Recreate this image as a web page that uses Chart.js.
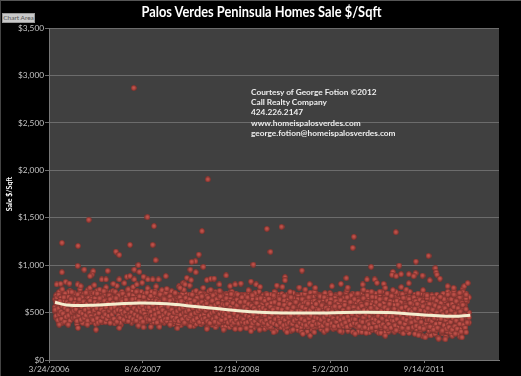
<!DOCTYPE html>
<html>
<head>
<meta charset="utf-8">
<script src="https://cdn.jsdelivr.net/npm/chart.js@4"></script>
<style>
  html, body { margin: 0; padding: 0; background: #000; overflow: hidden; }
  #wrap { position: relative; width: 521px; height: 376px; }
  #wrap canvas { filter: blur(0.35px); }
  #edge { position: absolute; left: 0; top: 0; width: 520px; height: 375px; border-top: 1px solid #555; border-left: 1px solid #444; }
  #head { position: absolute; left: 1px; top: 1px; width: 521px; text-align: center; font: bold 15px/20px Lato, sans-serif; color: #fff; transform: scaleX(.855); white-space: nowrap; }
  #btn { position: absolute; left: 2px; top: 13px; width: 33px; height: 10px; background: #c8c8c8; border: 1px solid #999; box-sizing: border-box;
         font: 6.5px/8px Lato, sans-serif; color: #555; text-align: center; white-space: nowrap; }
  #note { position: absolute; left: 251px; top: 87px; font: bold 8.3px/10.2px Lato, sans-serif; color: #eee; white-space: nowrap; }
</style>
</head>
<body>
<div id="wrap">
  <canvas id="myChart" width="521" height="376"></canvas>
  <div id="edge"></div>
  <div id="head">Palos Verdes Peninsula Homes Sale $/Sqft</div>
  <div id="btn">Chart Area</div>
  <div id="note">Courtesy of George Fotion ©2012<br>Call Realty Company<br>424.226.2147<br>www.homeispalosverdes.com<br>george.fotion@homeispalosverdes.com</div>
</div>
<script>
// x values are days since 3/24/2006, the axis steps 500 days
const tickDays = [0, 500, 1000, 1500, 2000];
const tickLabels = ['3/24/2006', '8/6/2007', '12/18/2008', '5/2/2010', '9/14/2011'];

const outlierDays = [452,847,69,212,155,69,153,188,236,228,219,313,357,375,432,525,560,553,569,477,455,482,816,799,781,761,823,754,783,1090,
  1162,1240,1181,1349,1259,1259,1626,1620,1850,2024,1957,1868,1718,2061,2065,2069,2085,1834,1829,1852,1878,1919,1955,1945,1992,2031,1919];
const outlierPrices = [2868,1904,1235,1478,1203,925,992,953,935,900,883,940,1143,1108,1214,1506,1411,1214,1052,999,953,929,1358,1112,1041,1035,982,953,925,1006,
  1383,1404,1140,943,872,840,1299,1183,1347,1098,1038,996,982,967,925,900,858,929,898,883,904,904,914,883,890,840,809];

const upperDays = [41,62,89,109,153,169,219,242,281,304,343,375,415,432,455,468,504,527,553,584,623,628,673,699,717,735,758,726,842,863,881,909,945,966,993,1023,1077,1105,
  1126,1215,1245,1286,1335,1367,1390,1420,1509,1557,1586,1593,1673,1696,1737,1749,1785,1794,1834,1879,1906,1995,2016,2087,2126,2158,2190,2215,2233,2225];
const upperPrices = [796,803,824,806,796,778,761,789,849,849,803,849,877,884,849,796,877,849,849,849,884,750,708,761,813,866,842,796,842,856,859,796,891,778,796,806,827,796,
  771,785,771,718,764,743,799,761,778,803,863,764,796,849,849,813,803,761,736,768,743,736,680,665,778,761,708,778,810,690];

const lowerDays = [55,103,155,205,251,326,375,477,504,543,589,646,685,753,842,931,993,1020,1052,1077,1123,
  1198,1269,1301,1354,1393,1415,1482,1553,1633,1692,1770,1794,1852,1971,2007,2078,2114,2167,2203,2225];
const lowerPrices = [373,373,338,373,320,391,338,363,345,349,349,373,335,356,327,320,327,327,335,303,320,
  292,292,320,275,257,292,320,303,278,285,285,257,313,261,239,225,218,278,239,292];

const coreDays = [
  33,38,42,47,51,55,58,63,66,71,74,79,83,86,91,95,99,104,108,112,117,121,125,129,
  132,136,141,144,149,153,157,162,166,170,175,179,184,188,193,197,202,206,211,215,219,223,226,229,
  232,236,241,245,249,254,257,262,266,270,275,279,283,288,292,296,301,305,309,314,318,322,326,329,
  333,337,341,346,350,354,358,362,367,371,376,380,384,389,393,398,402,406,411,415,419,423,427,429,
  433,437,441,445,449,454,458,462,466,471,475,479,483,488,492,497,501,505,510,514,518,522,526,529,
  533,537,542,546,550,554,559,563,567,572,576,580,585,589,593,598,602,606,611,615,619,623,627,629,
  632,636,641,645,649,654,658,662,667,671,676,680,684,689,693,698,702,706,711,715,719,723,727,729,
  733,737,742,746,750,755,759,763,768,772,776,781,785,789,794,798,802,807,811,815,819,823,827,829,
  832,836,841,845,849,853,858,862,867,871,875,880,884,888,893,897,901,906,910,914,919,923,927,929,
  933,937,942,946,950,955,959,963,968,972,976,981,985,989,994,998,1002,1007,1011,1015,1020,1024,1027,1029,
  1033,1037,1042,1046,1051,1055,1059,1064,1068,1072,1077,1081,1085,1090,1094,1098,1103,1107,1111,1116,1120,1124,1127,1129,
  1133,1137,1142,1146,1151,1155,1159,1164,1168,1172,1177,1181,1185,1190,1194,1198,1203,1207,1211,1216,1220,1224,1227,1229,
  1233,1238,1242,1246,1251,1255,1259,1264,1268,1272,1277,1281,1285,1290,1294,1298,1303,1307,1311,1316,1320,1324,1327,1329,
  1333,1338,1342,1346,1351,1355,1359,1364,1368,1372,1377,1381,1385,1390,1394,1398,1403,1407,1411,1416,1420,1424,1427,1429,
  1433,1438,1442,1446,1451,1455,1459,1464,1468,1472,1477,1481,1485,1490,1494,1498,1503,1507,1511,1516,1520,1524,1527,1529,
  1533,1538,1542,1546,1551,1555,1559,1564,1568,1572,1577,1581,1585,1590,1594,1598,1603,1607,1611,1616,1620,1624,1627,1629,
  1633,1638,1642,1646,1651,1655,1659,1664,1668,1672,1677,1681,1685,1690,1694,1698,1703,1707,1711,1716,1720,1724,1727,1729,
  1733,1738,1742,1746,1751,1755,1759,1764,1768,1772,1777,1781,1785,1790,1794,1798,1803,1807,1811,1816,1820,1824,1827,1829,
  1833,1838,1842,1846,1851,1855,1859,1864,1868,1872,1877,1881,1885,1890,1894,1898,1903,1907,1911,1916,1920,1924,1927,1929,
  1933,1938,1942,1946,1951,1955,1959,1964,1968,1972,1977,1981,1985,1990,1994,1998,2003,2007,2011,2016,2020,2024,2027,2029,
  2033,2038,2042,2046,2051,2055,2059,2064,2068,2072,2077,2081,2085,2090,2094,2098,2103,2107,2111,2116,2120,2124,2127,2129,
  2133,2138,2142,2146,2151,2155,2159,2164,2168,2172,2177,2181,2185,2190,2194,2198,2203,2207,2211,2216,2220,2224,2230,2240
];
const corePrices = [
  512,448,655,590,401,718,532,612,468,745,556,425,688,503,630,392,575,715,482,640,430,540,672,598,
  455,702,528,610,378,660,490,575,748,415,540,632,468,695,385,585,510,735,440,620,498,668,402,555,
  622,455,705,518,380,596,672,430,548,742,476,620,398,568,690,510,445,765,585,412,650,530,470,715,
  595,440,728,505,385,655,560,782,425,615,492,700,372,540,640,455,810,578,408,680,520,745,468,605,
  520,690,395,615,770,458,575,642,410,725,535,380,660,490,600,815,440,560,700,405,630,510,755,470,
  640,430,562,720,385,505,675,450,598,775,412,530,690,375,620,480,735,550,405,655,515,710,440,585,
  505,655,395,580,440,725,520,378,610,460,680,545,405,630,775,490,365,570,695,430,740,525,395,610,
  470,645,380,560,785,425,605,510,690,360,575,445,730,535,395,650,480,705,375,590,500,760,420,620,
  560,400,675,345,490,620,440,740,525,370,600,465,695,345,555,415,650,505,730,380,590,450,625,350,
  470,610,355,535,680,420,580,345,640,495,720,385,560,440,615,340,520,690,405,595,465,650,345,545,
  620,395,510,680,345,565,450,735,335,600,480,380,645,525,340,705,430,575,360,620,495,330,555,440,
  520,370,625,440,330,585,475,690,345,555,410,640,495,325,600,385,715,460,310,565,430,660,350,520,
  470,345,610,530,400,675,320,560,445,630,360,515,695,310,580,425,650,480,335,605,390,540,320,670,
  540,385,640,300,475,595,350,700,430,555,300,620,510,370,665,450,320,585,405,720,530,345,610,465,
  380,590,470,670,325,535,410,625,300,705,455,565,360,640,510,345,690,425,595,330,480,655,385,550,
  445,615,330,540,700,390,575,300,480,650,355,530,420,735,310,595,465,375,680,520,295,610,440,560,
  360,590,465,700,300,525,630,410,295,565,740,445,335,605,500,680,380,290,550,425,720,320,610,470,
  540,395,660,310,490,600,285,720,430,560,340,640,470,290,585,375,700,515,300,620,440,350,675,530,
  400,610,300,510,715,355,570,450,640,310,530,415,695,280,595,470,345,650,385,540,285,720,440,585,
  330,560,425,660,275,500,615,370,700,455,290,580,395,635,250,520,345,690,440,600,265,545,380,650,
  475,260,590,350,650,420,275,540,375,610,235,495,330,660,410,280,570,445,620,245,360,525,690,300,
  430,580,310,640,255,495,690,370,540,285,610,450,330,660,245,520,400,715,295,575,350,630,425,500
];
// further sales read at the same days, the thick part of the band
const midPrices = [
  560,610,470,520,690,430,585,655,505,395,625,545,460,700,575,415,530,665,490,600,440,715,510,650,
  580,490,640,425,545,690,510,605,445,560,660,390,525,620,470,710,575,435,655,530,400,600,490,645,
  505,585,430,650,540,475,700,395,615,520,580,450,660,490,725,545,400,630,510,590,430,680,555,470,
  470,655,530,600,420,720,505,590,445,680,555,395,625,480,700,535,610,430,660,505,575,415,690,545,
  610,450,560,500,680,415,645,525,720,470,590,430,670,545,390,620,500,665,440,585,525,710,415,600,
  490,590,675,440,550,625,400,705,510,460,640,570,420,530,690,445,600,485,655,395,575,510,630,450,
  590,450,540,670,490,415,635,560,400,700,475,610,525,380,590,660,445,540,480,620,385,570,505,655,
  545,420,610,480,640,530,395,690,445,575,500,620,380,655,465,560,410,595,525,670,395,540,610,455,
  475,620,420,570,655,385,530,610,450,505,680,395,585,470,640,375,520,600,430,670,500,555,405,620,
  540,410,590,650,460,520,385,610,480,695,370,560,440,620,515,395,635,470,570,380,605,495,430,660,
  455,575,370,615,495,400,660,525,430,590,355,505,680,445,555,395,610,480,640,370,530,590,420,650,
  450,585,395,530,625,365,490,570,420,645,475,350,600,510,410,680,445,545,375,620,490,565,400,640,
  535,420,580,375,490,625,440,555,350,600,475,405,540,660,385,510,590,430,615,365,520,455,640,395,
  420,575,345,500,640,455,530,385,610,475,565,350,660,440,520,395,595,480,350,625,430,545,375,600,
  500,405,610,355,545,470,590,385,660,440,520,345,625,480,570,410,640,365,505,555,425,595,340,620,
  530,380,590,465,340,630,500,425,560,355,610,480,395,660,520,430,350,585,490,615,370,545,445,640,
  485,400,555,345,620,470,385,590,510,340,650,435,560,375,480,610,330,525,420,585,360,665,500,395,
  450,570,350,610,415,525,375,640,490,340,555,430,600,365,510,645,410,330,565,470,620,385,530,345,
  520,375,580,440,345,625,490,395,550,330,610,470,360,655,505,420,575,320,535,460,640,380,510,340,
  450,590,350,510,405,620,325,475,560,385,635,435,320,530,610,370,480,575,335,655,415,500,310,590,
  400,540,320,455,590,360,500,310,625,435,545,330,470,600,295,520,385,640,340,490,565,300,440,580,
  380,520,290,465,590,345,430,555,300,620,395,510,280,575,440,325,600,480,360,545,310,650,455,395
];
const densePrices = [
  530,465,595,420,545,480,620,510,435,570,490,660,405,550,455,610,525,470,590,415,640,500,565,445,
  520,600,450,535,410,585,470,640,505,425,560,490,615,445,530,470,590,415,550,500,625,460,575,430,
  560,420,525,610,470,545,440,590,495,650,410,535,575,455,510,625,480,555,430,600,465,520,640,405,
  545,480,600,435,560,510,650,405,530,470,590,445,520,615,490,425,570,505,635,460,540,410,595,480,
  450,580,505,640,430,545,480,600,415,525,460,620,555,440,510,575,405,530,485,610,450,560,430,590,
  555,425,510,600,465,585,430,530,480,625,395,545,500,610,450,560,415,525,470,640,430,500,580,410,
  440,560,480,625,395,530,455,590,500,420,575,445,515,605,410,540,475,620,430,555,500,395,585,460,
  510,590,435,525,460,600,480,405,550,420,625,495,570,440,515,590,400,535,465,610,430,545,480,575,
  440,520,595,410,545,470,390,565,495,625,430,510,405,580,450,530,600,395,485,560,420,515,590,465,
  500,580,430,480,590,395,510,455,560,415,530,600,395,490,545,425,575,460,385,520,610,440,505,405,
  500,430,560,390,470,535,400,590,455,510,420,570,385,480,545,410,520,600,445,380,495,560,420,530,
  410,490,550,395,470,525,420,585,375,505,445,560,400,480,530,385,610,430,500,370,545,455,590,415,
  395,490,530,440,365,580,420,505,375,545,450,395,590,470,520,380,555,415,490,610,435,360,515,465,
  460,395,520,435,560,375,490,415,540,365,510,595,440,390,525,470,365,555,410,500,450,590,380,520,
  440,530,385,490,425,575,360,505,450,395,550,475,375,530,420,600,465,385,510,440,355,565,410,490,
  400,505,445,360,560,420,480,375,525,440,580,395,500,350,460,545,415,610,370,485,430,555,390,515,
  430,510,380,470,545,355,495,415,570,400,450,525,345,480,590,405,520,375,460,550,340,500,430,395,
  390,500,425,350,545,465,400,580,360,515,440,375,490,555,345,470,415,530,380,590,450,340,505,420,
  460,410,540,365,490,430,585,345,515,395,470,550,340,440,500,380,560,420,475,335,530,395,600,450,
  395,510,345,470,540,415,360,590,440,495,340,525,400,470,565,330,455,515,385,420,545,350,490,425,
  350,485,410,530,320,445,575,380,500,340,460,555,390,435,515,310,480,365,545,420,330,505,450,375,
  345,470,400,525,320,440,560,355,490,415,330,545,460,380,510,300,430,580,370,475,340,535,395,450
];
const highPrices = [
  640,680,585,625,660,705,610,570,680,640,715,595,660,650,590,620,690,600,605,730,670,610,640,560,
  690,650,600,620,585,680,630,595,715,645,570,625,700,670,590,610,655,690,630,575,650,720,600,640,
  690,600,640,560,610,725,665,590,600,700,640,575,690,620,610,660,725,605,580,680,635,600,700,625,
  640,670,590,625,710,650,600,690,620,570,680,610,640,720,600,655,695,650,580,625,735,670,605,640,
  665,600,620,730,680,590,640,705,615,575,690,650,610,600,720,670,585,625,640,690,640,600,605,715,
  630,650,580,610,700,660,595,620,725,680,570,600,645,640,710,665,590,615,700,690,630,605,670,610,
  620,720,655,590,645,670,600,570,635,705,580,630,650,690,600,645,625,680,575,720,650,590,700,640,
  665,595,630,620,690,575,640,640,600,715,660,570,700,625,680,590,635,610,650,575,710,640,590,695,
  620,690,570,645,600,725,590,660,700,565,630,680,585,715,600,650,560,690,620,575,665,700,590,635,
  680,580,640,700,565,625,660,590,715,570,650,610,685,560,630,700,580,645,600,675,565,630,690,590,
  575,650,690,560,625,670,590,715,565,640,600,685,575,655,610,700,560,630,665,585,720,600,650,565,
  640,560,680,605,650,575,700,590,630,555,670,610,690,570,640,595,720,560,655,620,580,690,600,565,
  650,580,695,560,625,600,670,555,640,690,590,615,560,680,635,575,705,600,650,565,620,680,590,635,
  580,640,560,690,610,575,660,600,545,685,625,570,650,600,710,555,640,590,670,560,620,575,695,610,
  625,560,680,600,545,650,610,690,565,630,590,670,550,640,610,705,560,620,585,660,545,635,600,680,
  590,670,555,640,605,565,690,620,550,660,595,630,710,560,640,600,675,545,625,590,700,565,650,610,
  625,565,690,600,550,660,620,700,575,640,590,675,545,630,610,715,565,650,585,690,550,625,600,670,
  660,590,700,545,640,610,565,680,625,575,720,600,650,545,670,620,590,700,560,640,605,680,550,630,
  640,700,575,620,670,550,650,600,700,565,640,590,680,545,625,610,720,560,650,590,670,545,630,610,
  590,655,545,620,690,565,640,600,670,540,625,585,700,555,640,610,660,530,620,575,680,550,635,600,
  620,570,680,540,635,600,650,560,690,585,620,540,665,600,640,555,700,575,625,540,660,600,720,570,
  640,590,700,545,650,600,730,560,625,680,585,640,545,690,610,570,660,750,595,635,555,700,620,660
];

const trendDays = [32,94,236,361,486,628,735,877,983,1126,1268,1482,1660,1802,1926,2051,2157,2247];
const trendPrices = [608,581,577,591,602,594,573,545,524,503,496,496,503,500,486,468,460,472];

function pts(xs, ys) {
  return xs.map((d, i) => ({ x: d, y: ys[i] }));
}

// little shaded ball for the markers
const ball = document.createElement('canvas');
ball.width = 6; ball.height = 6;
const bc = ball.getContext('2d');
const g = bc.createRadialGradient(3, 2.7, 0.3, 3, 3, 3);
g.addColorStop(0, '#c6584f');
g.addColorStop(0.55, '#a8423c');
g.addColorStop(1, '#70302b');
bc.fillStyle = g;
bc.beginPath();
bc.arc(3, 3, 2.9, 0, Math.PI * 2);
bc.fill();

const plotBack = {
  id: 'plotBack',
  beforeDraw(c) {
    const a = c.chartArea;
    c.ctx.save();
    c.ctx.fillStyle = '#404040';
    c.ctx.fillRect(a.left, a.top, a.right - a.left, a.bottom - a.top);
    c.ctx.restore();
  }
};

new Chart('myChart', {
  type: 'scatter',
  data: {
    datasets: [
      {
        label: 'Trend',
        data: pts(trendDays, trendPrices),
        showLine: true,
        tension: 0.4,
        borderColor: '#f4edcf',
        borderWidth: 3,
        pointRadius: 0,
        order: 0
      },
      {
        label: 'Sale $/Sqft',
        data: pts(coreDays, highPrices).concat(pts(coreDays, corePrices), pts(coreDays, midPrices), pts(coreDays, densePrices),
          pts(upperDays, upperPrices), pts(lowerDays, lowerPrices), pts(outlierDays, outlierPrices)),
        pointStyle: ball,
        order: 1
      }
    ]
  },
  options: {
    responsive: false,
    animation: false,
    layout: { padding: { left: 0, right: 22, top: 28, bottom: 0 } },
    plugins: {
      legend: { display: false },
      tooltip: { enabled: false }
    },
    scales: {
      x: {
        type: 'linear',
        min: 0,
        max: 2400,
        afterFit(s) { s.height = 16; },
        afterBuildTicks(s) { s.ticks = tickDays.map(v => ({ value: v })); },
        grid: { drawOnChartArea: false, color: '#777', tickLength: 3 },
        border: { color: '#777' },
        ticks: {
          autoSkip: false,
          maxRotation: 0,
          padding: 1,
          color: '#c4c4c4',
          font: { family: 'Lato', size: 8.3 },
          callback: (v, i) => tickLabels[i]
        }
      },
      y: {
        min: 0,
        max: 3500,
        afterFit(s) { s.width = 49; },
        title: {
          display: true,
          text: 'Sale $/Sqft',
          color: '#fff',
          font: { family: 'Lato', size: 7, weight: 'bold' },
          padding: { top: 6, bottom: 0 }
        },
        grid: { color: '#6c6c6c', tickLength: 4 },
        border: { color: '#777' },
        ticks: {
          stepSize: 500,
          padding: 1,
          color: '#c4c4c4',
          font: { family: 'Lato', size: 8.3 },
          callback: v => '$' + v.toLocaleString('en-US')
        }
      }
    }
  },
  plugins: [plotBack]
});
</script>
</body>
</html>
